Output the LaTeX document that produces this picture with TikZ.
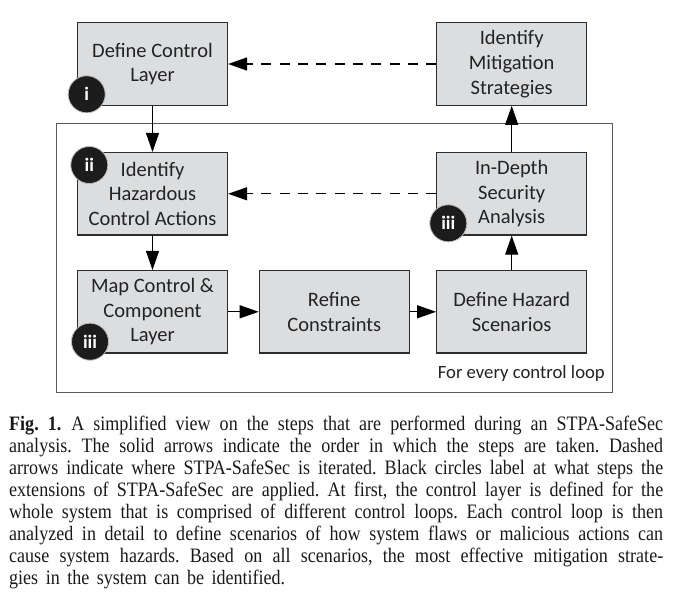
\documentclass[tikz,border=0pt]{standalone}
\usepackage{fontspec}
\setmainfont{Liberation Serif}
\newfontfamily\capfont[FakeStretch=0.88]{Liberation Serif}
\newfontfamily\boxfont{Carlito}
\usetikzlibrary{arrows.meta}
\definecolor{boxfill}{RGB}{220,221,223}
\definecolor{boxline}{RGB}{45,45,45}
\definecolor{loopline}{RGB}{90,90,90}
\definecolor{dotfill}{RGB}{28,28,28}
\definecolor{boxtext}{RGB}{35,35,35}
\frenchspacing
\begin{document}
\begin{tikzpicture}[x=1pt,y=-1pt,
  stepbox/.style={draw=boxline, fill=boxfill, line width=1.2pt, minimum width=150pt, minimum height=82.5pt, inner sep=0pt, align=center, text=boxtext, font=\boxfont\fontsize{20.5}{24.7}\selectfont},
  looprect/.style={draw=loopline, line width=1pt, minimum width=556pt, minimum height=268.7pt, inner sep=0pt},
  flow/.style={line width=1.2pt, -{Triangle[length=19pt,width=13pt]}},
  iter/.style={line width=1.2pt, dash pattern=on 10pt off 8.3pt, -{Triangle[length=19pt,width=13pt]}},
  badge/.style={circle, fill=dotfill, draw=gray!55, line width=0.8pt, minimum size=37pt, inner sep=0pt, text=white, font=\boxfont\bfseries\fontsize{19}{19}\selectfont},
  capline/.style={anchor=base west, inner sep=0pt, text=black!90, font=\capfont\fontsize{20.5}{22}\selectfont}
]
\useasboundingbox (0,0) rectangle (674,599);

\node[looprect] (loop) at (334,257.65) {};

\node[stepbox] (ctrl) at (152.5,64) {Define Control\\Layer};
\node[stepbox] (miti) at (511.7,64) {Identify\\Mitigation\\Strategies};
\node[stepbox] (haz) at (152.5,193.8) {Identify\\Hazardous\\Control Actions};
\node[stepbox] (depth) at (511.7,193.8) {In-Depth\\Security\\Analysis};
\node[stepbox] (map) at (152.5,311.8) {Map Control \&\\Component\\Layer};
\node[stepbox] (refine) at (334.3,311.8) {Refine\\Constraints};
\node[stepbox] (scen) at (511.7,311.8) {Define Hazard\\Scenarios};

\draw[flow] (ctrl) -- (haz);
\draw[flow] (haz) -- (map);
\draw[flow] (map) -- (refine);
\draw[flow] (refine) -- (scen);
\draw[flow] (scen) -- (depth);
\draw[flow] (depth) -- (miti);
\draw[iter] (miti) -- (ctrl);
\draw[iter] (depth) -- (haz);

\node[badge] (b1) at (86.7,94.3) {i};
\node[badge] (b2) at (89.3,165) {ii};
\node[badge] (b3) at (448.3,223.3) {iii};
\node[badge] (b4) at (90,341.7) {iii};

\node[anchor=base east, inner sep=0pt, text=boxtext, font=\boxfont\fontsize{18.7}{20}\selectfont] (looplabel) at (605,378) {For every control loop};

\node[capline] (c1) at (9,430) {\makebox[654pt][s]{\textbf{Fig.~1.}\hspace{10pt}A simplified view on the steps that are performed during an STPA-SafeSec}};
\node[capline] (c2) at (9,452.1) {\makebox[654pt][s]{analysis. The solid arrows indicate the order in which the steps are taken. Dashed}};
\node[capline] (c3) at (9,474.2) {\makebox[654pt][s]{arrows indicate where STPA-SafeSec is iterated. Black circles label at what steps the}};
\node[capline] (c4) at (9,496.3) {\makebox[654pt][s]{extensions of STPA-SafeSec are applied. At first, the control layer is defined for the}};
\node[capline] (c5) at (9,518.4) {\makebox[654pt][s]{whole system that is comprised of different control loops. Each control loop is then}};
\node[capline] (c6) at (9,540.5) {\makebox[654pt][s]{analyzed in detail to define scenarios of how system flaws or malicious actions can}};
\node[capline] (c7) at (9,562.6) {\makebox[654pt][s]{cause system hazards. Based on all scenarios, the most effective mitigation strate-}};
\node[capline] (c8) at (9,584.7) {\makebox[276pt][s]{gies in the system can be identified.}};
\end{tikzpicture}
\end{document}
